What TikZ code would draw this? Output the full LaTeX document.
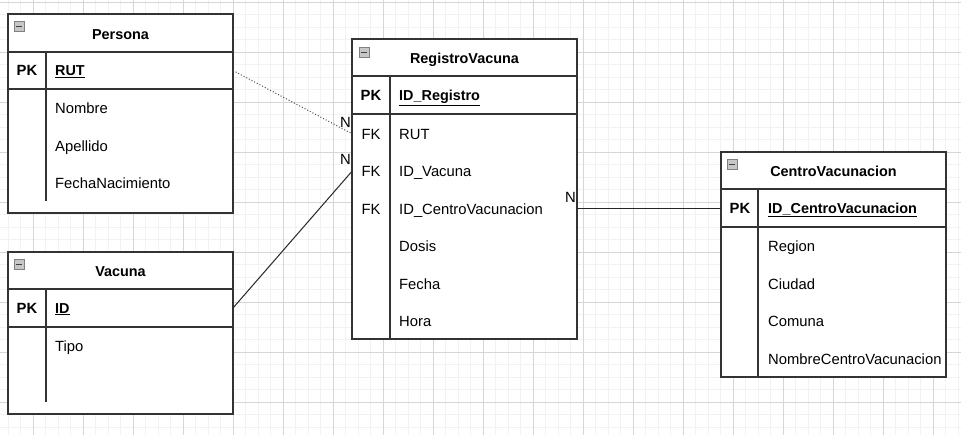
\documentclass[tikz,border=0pt]{standalone}
\usepackage{fontspec}
\setmainfont{Liberation Sans}
\begin{document}
\begin{tikzpicture}[x=1pt,y=-1pt,
 minorgrid/.style={draw=black!5, line width=0.8pt},
 majorgrid/.style={draw=black!16, line width=0.8pt},
 box/.style={draw=black!80, line width=1.3pt, fill=white, minimum width=225pt, inner sep=0pt, outer sep=0pt, anchor=north west},
 rowbox/.style={minimum width=225pt, minimum height=37.5pt, inner sep=0pt, outer sep=0pt, anchor=north west},
 txt/.style={inner sep=0pt, text height=10.6pt, text depth=0pt, font=\fontsize{14.8}{17}\selectfont, text=black},
 attr/.style={txt, anchor=west},
 keylbl/.style={txt, anchor=center},
 ttl/.style={txt, anchor=center, font=\fontsize{14.4}{17}\selectfont\bfseries},
 icon/.style={draw=black!50, fill=black!22, minimum size=10pt, inner sep=0pt, anchor=north west, line width=0.6pt,
   path picture={\draw[black!75, line width=1.1pt] ([xshift=-3pt]path picture bounding box.center) -- ([xshift=3pt]path picture bounding box.center);}},
 tline/.style={draw=black!80, line width=1.3pt},
 conn/.style={draw=black!85, line width=1pt},
 dotconn/.style={draw=black!70, line width=1pt, dash pattern=on 1pt off 2pt},
 card/.style={txt, anchor=east}
]
\useasboundingbox (0,0) rectangle (961,435);
\fill[white] (0,0) rectangle (961,435);
% grid
\foreach \i in {0,...,77} \draw[minorgrid] ({-4.5+12.5*\i},0) -- ({-4.5+12.5*\i},435);
\foreach \j in {0,...,35} \draw[minorgrid] (0,{-10.5+12.5*\j}) -- (961,{-10.5+12.5*\j});
\foreach \i in {0,...,20} \draw[majorgrid] ({-17+50*\i},0) -- ({-17+50*\i},435);
\foreach \j in {0,...,8} \draw[majorgrid] (0,{2+50*\j}) -- (961,{2+50*\j});

% ---------- Persona ----------
\node[box, minimum height=38pt] (perH) at (8,14) {};
\node[box, minimum height=37pt] (perK) at (perH.south west) {};
\node[box, minimum height=124pt] (perB) at (perK.south west) {};
\node[icon] (perI) at ([shift={(6,7)}]perH.north west) {};
\node[ttl] (perT) at ([yshift=-1pt]perH.center) {Persona};
\draw[tline] ([xshift=38pt]perK.north west) -- ([xshift=38pt,yshift=12pt]perB.south west);
\node[keylbl, font=\fontsize{14.8}{17}\selectfont\bfseries] (perPK) at ([xshift=19pt]perK.west) {PK};
\node[attr, font=\fontsize{14.4}{17}\selectfont\bfseries] (perRUT) at ([xshift=47pt]perK.west) {\underline{RUT}};
\foreach \t [count=\i] in {Nombre,Apellido,FechaNacimiento}
  \node[attr] (perA\i) at ([shift={(47,{19.5+37.5*(\i-1)})}]perB.north west) {\t};

% ---------- Vacuna ----------
\node[box, minimum height=37pt] (vacH) at (8,252) {};
\node[box, minimum height=38pt] (vacK) at (vacH.south west) {};
\node[box, minimum height=87pt] (vacB) at (vacK.south west) {};
\node[icon] (vacI) at ([shift={(6,7)}]vacH.north west) {};
\node[ttl] (vacT) at ([yshift=-1pt]vacH.center) {Vacuna};
\draw[tline] ([xshift=38pt]vacK.north west) -- ([xshift=38pt,yshift=12pt]vacB.south west);
\node[keylbl, font=\fontsize{14.8}{17}\selectfont\bfseries] (vacPK) at ([xshift=19pt]vacK.west) {PK};
\node[attr, font=\fontsize{14.4}{17}\selectfont\bfseries] (vacID) at ([xshift=47pt]vacK.west) {\underline{ID}};
\node[attr] (vacA1) at ([shift={(47,19.5)}]vacB.north west) {Tipo};

% ---------- RegistroVacuna ----------
\node[box, minimum height=37pt] (regH) at (352,39) {};
\node[box, minimum height=38pt] (regK) at (regH.south west) {};
\node[box, minimum height=225pt] (regB) at (regK.south west) {};
\node[icon] (regI) at ([shift={(7,8)}]regH.north west) {};
\node[ttl] (regT) at ([yshift=-1pt]regH.center) {RegistroVacuna};
\draw[tline] ([xshift=38pt]regK.north west) -- ([xshift=38pt]regB.south west);
\node[keylbl, font=\fontsize{14.8}{17}\selectfont\bfseries] (regPK) at ([xshift=19pt]regK.west) {PK};
\node[attr, font=\fontsize{14.4}{17}\selectfont\bfseries] (regID) at ([xshift=47pt]regK.west) {\underline{ID\_Registro}};
\foreach \t [count=\i] in {RUT,ID\_Vacuna,ID\_CentroVacunacion,Dosis,Fecha,Hora}{
  \node[rowbox] (regR\i) at ([shift={(0,{1+37.5*(\i-1)})}]regB.north west) {};
  \node[attr] (regA\i) at ([xshift=47pt]regR\i.west) {\t};
}
\foreach \i in {1,2,3}
  \node[keylbl] (regFK\i) at ([xshift=19pt]regR\i.west) {FK};

% ---------- CentroVacunacion ----------
\node[box, minimum height=37pt] (cenH) at (721,152) {};
\node[box, minimum height=38pt] (cenK) at (cenH.south west) {};
\node[box, minimum height=150pt] (cenB) at (cenK.south west) {};
\node[icon] (cenI) at ([shift={(6,7)}]cenH.north west) {};
\node[ttl] (cenT) at ([yshift=-1pt]cenH.center) {CentroVacunacion};
\draw[tline] ([xshift=37pt]cenK.north west) -- ([xshift=37pt]cenB.south west);
\node[keylbl, font=\fontsize{14.8}{17}\selectfont\bfseries] (cenPK) at ([xshift=19pt]cenK.west) {PK};
\node[attr, font=\fontsize{14.4}{17}\selectfont\bfseries] (cenID) at ([xshift=47pt]cenK.west) {\underline{ID\_CentroVacunacion}};
\foreach \t [count=\i] in {Region,Ciudad,Comuna,NombreCentroVacunacion}
  \node[attr] (cenA\i) at ([shift={(47,{19.5+37.5*(\i-1)})}]cenB.north west) {\t};

% ---------- connectors ----------
\draw[dotconn] (perK.east) -- (regR1.west);
\draw[conn] (vacK.east) -- (regR2.west);
\draw[conn] (regR3.east) -- (regR3.east -| cenK.west);
\node[card] (n1) at ([shift={(-1,-11.5)}]regR1.west) {N};
\node[card] (n2) at ([shift={(-1,-12)}]regR2.west) {N};
\node[card] (n3) at ([shift={(-1,-12)}]regR3.east) {N};
\end{tikzpicture}
\end{document}
